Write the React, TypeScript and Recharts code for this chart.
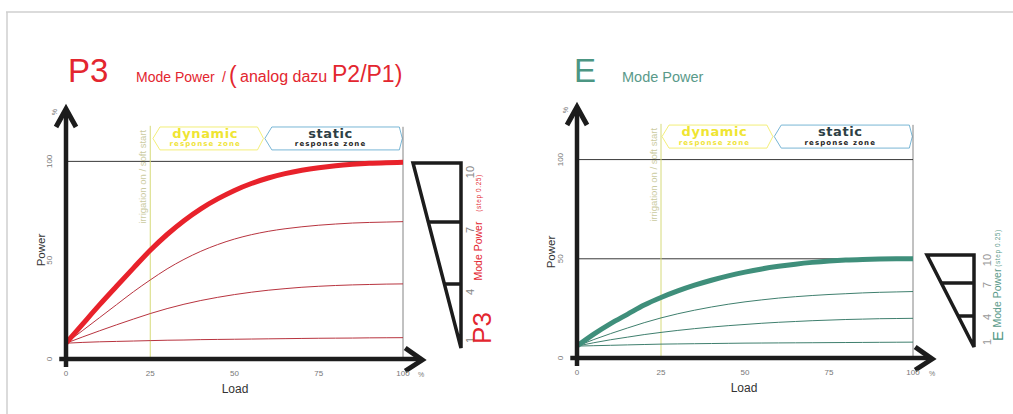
import React from 'react';
import { LineChart, Line, XAxis, YAxis, ReferenceLine, ReferenceArea } from 'recharts';

const loads = [0, 5, 10, 15, 20, 25, 30, 35, 40, 45, 50, 55, 60, 65, 70, 75, 80, 85, 90, 95, 100];

const p3Mode10 = [8, 17.8, 27.5, 36.8, 46, 55, 63, 70, 76, 81, 85.3, 88.8, 91.6, 93.8, 95.5, 96.8, 97.8, 98.5, 99, 99.3, 99.5];
const p3Mode7 = [8, 14.5, 21, 27.5, 34, 40, 45.6, 50.4, 54.5, 57.9, 60.7, 62.9, 64.6, 65.9, 66.9, 67.7, 68.3, 68.8, 69.1, 69.3, 69.5];
const p3Mode4 = [8, 11.2, 14.3, 17.3, 20.2, 23, 25.5, 27.7, 29.6, 31.2, 32.6, 33.8, 34.8, 35.6, 36.3, 36.8, 37.2, 37.5, 37.7, 37.9, 38];
const p3Mode1 = [8, 8.4, 8.7, 8.9, 9.1, 9.3, 9.5, 9.6, 9.8, 9.9, 10, 10.1, 10.2, 10.3, 10.4, 10.5, 10.55, 10.6, 10.7, 10.75, 10.8];

const eMode10 = [6, 12, 17.3, 22, 26.7, 30.5, 33.8, 36.7, 39.2, 41.4, 43.3, 44.9, 46.2, 47.3, 48.2, 48.9, 49.4, 49.7, 49.9, 50, 50];
const eMode7 = [6, 9.3, 12.3, 15.1, 17.8, 20.2, 22.3, 24.1, 25.7, 27.1, 28.3, 29.3, 30.2, 30.9, 31.5, 32, 32.4, 32.8, 33.1, 33.3, 33.5];
const eMode4 = [6, 7.7, 9.2, 10.5, 11.8, 12.9, 13.9, 14.8, 15.6, 16.3, 16.9, 17.5, 18, 18.4, 18.8, 19.1, 19.4, 19.6, 19.8, 19.9, 20];
const eMode1 = [6, 6.2, 6.4, 6.6, 6.8, 7, 7.1, 7.2, 7.3, 7.4, 7.5, 7.55, 7.6, 7.65, 7.7, 7.75, 7.8, 7.85, 7.9, 7.95, 8];

const xTicks = [0, 25, 50, 75, 100];
const modeTicks = ['10', '7', '4', '1'];

const FONT = '"Liberation Sans", Arial, sans-serif';
const WIDE = '"DejaVu Sans", sans-serif';

const buildData = (m10: number[], m7: number[], m4: number[], m1: number[]) =>
  loads.map((x, i) => ({ load: x, m10: m10[i], m7: m7[i], m4: m4[i], m1: m1[i] }));

const p3Data = buildData(p3Mode10, p3Mode7, p3Mode4, p3Mode1);
const eData = buildData(eMode10, eMode7, eMode4, eMode1);

const YTick = (props: any) => {
  const { x, y, payload } = props;
  const tx = x - 6;
  return (
    <text x={tx} y={y} transform={`rotate(-90 ${tx} ${y})`} textAnchor="middle" fontSize={8} fill="#777" fontFamily={FONT}>
      {payload.value}
    </text>
  );
};

const XTick = (props: any) => {
  const { x, y, payload } = props;
  return (
    <text x={x} y={y + 9} textAnchor="middle" fontSize={8} fill="#777" fontFamily={FONT}>
      {payload.value}
    </text>
  );
};

const YArrow = (props: any) => {
  const { x1, y1, x2, y2 } = props;
  const tx = x2;
  const ty = y2 - 2;
  return (
    <g>
      <line x1={x1} y1={y1} x2={tx} y2={ty + 2} stroke="#1c1c1c" strokeWidth={4.5} />
      <polyline points={`${tx - 10},${ty + 19} ${tx},${ty + 1} ${tx + 10},${ty + 19}`} fill="none" stroke="#1c1c1c" strokeWidth={5} />
    </g>
  );
};

const XArrow = (props: any) => {
  const { x1, y1, x2, y2 } = props;
  return (
    <g>
      <line x1={x1} y1={y1} x2={x2 - 2} y2={y2} stroke="#1c1c1c" strokeWidth={4.5} />
      <polyline points={`${x2 - 18},${y2 - 11} ${x2 - 1},${y2 + 1} ${x2 - 18},${y2 + 12}`} fill="none" stroke="#1c1c1c" strokeWidth={5} />
    </g>
  );
};

const IrrigationLine = (props: any) => {
  const { x1, y1, x2, y2 } = props;
  const tx = x1 - 4;
  const ty = y2 + 4;
  return (
    <g>
      <line x1={x1} y1={y1} x2={x2} y2={y2} stroke="#d6da7a" strokeWidth={1} />
      <text x={tx} y={ty} transform={`rotate(-90 ${tx} ${ty})`} textAnchor="end" fontSize={9.5} fill="#cacaa0" fontFamily={FONT}>
        irrigation on / soft start
      </text>
    </g>
  );
};

const makeZone = (kind: 'dynamic' | 'static') => (props: any) => {
  const { x, y, width, height } = props;
  const pl = 7;
  const pr = kind === 'dynamic' ? 6 : 3;
  const pts = [
    [x + pl, y],
    [x + width - pr, y],
    [x + width, y + height / 2],
    [x + width - pr, y + height],
    [x + pl, y + height],
    [x, y + height / 2],
  ]
    .map((p) => p.join(','))
    .join(' ');
  const cx = x + width / 2 - 3;
  const stroke = kind === 'dynamic' ? '#f2ec6a' : '#6aaed0';
  const main = kind === 'dynamic' ? '#efe532' : '#2e3f45';
  const sub = kind === 'dynamic' ? '#f0e43a' : '#1e1e1e';
  return (
    <g>
      <polygon points={pts} fill="#fff" stroke={stroke} strokeWidth={0.9} />
      <text x={cx} y={y + 11} textAnchor="middle" fontSize={13} fontWeight="bold" fill={main} fontFamily={WIDE} letterSpacing={0.6}>
        {kind}
      </text>
      <text x={cx} y={y + 19.5} textAnchor="middle" fontSize={7} fontWeight="bold" fill={sub} fontFamily={WIDE} letterSpacing={1.1}>
        response zone
      </text>
    </g>
  );
};

const DynamicZone = makeZone('dynamic');
const StaticZone = makeZone('static');

type ChartProps = {
  data: any[];
  thick: string;
  thin: string;
  left: number;
  width: number;
  margin: { top: number; right: number; bottom: number; left: number };
  zones: { d1: number; d2: number; s2: number };
  extraLines: number[];
};

const ModeChart = ({ data, thick, thin, left, width, margin, zones, extraLines }: ChartProps) => (
  <div style={{ position: 'absolute', left, top: 0 }}>
    <LineChart width={width} height={414} data={data} margin={margin}>
      <XAxis dataKey="load" type="number" domain={[0, 100]} ticks={xTicks} axisLine={false} tickLine={false} height={20} tick={<XTick />} interval={0} />
      <YAxis type="number" domain={[0, 126]} ticks={[0, 50, 100]} axisLine={false} tickLine={false} width={30} tick={<YTick />} interval={0} />
      <ReferenceLine segment={[{ x: 100, y: 0 }, { x: 100, y: 117.5 }]} stroke="#666" strokeWidth={0.8} ifOverflow="visible" />
      {extraLines.map((v) => (
        <ReferenceLine key={v} segment={[{ x: 0, y: v }, { x: 100, y: v }]} stroke="#222" strokeWidth={0.9} ifOverflow="visible" />
      ))}
      <ReferenceLine segment={[{ x: 25, y: 0 }, { x: 25, y: 118 }]} ifOverflow="visible" shape={IrrigationLine} />
      <ReferenceArea x1={zones.d1} x2={zones.d2} y1={105.8} y2={117.4} ifOverflow="visible" shape={DynamicZone} />
      <ReferenceArea x1={zones.d2 + 0.4} x2={zones.s2} y1={105.8} y2={117.4} ifOverflow="visible" shape={StaticZone} />
      <Line type="monotone" dataKey="m1" stroke={thin} strokeWidth={1} dot={false} isAnimationActive={false} />
      <Line type="monotone" dataKey="m4" stroke={thin} strokeWidth={1} dot={false} isAnimationActive={false} />
      <Line type="monotone" dataKey="m7" stroke={thin} strokeWidth={1} dot={false} isAnimationActive={false} />
      <Line type="monotone" dataKey="m10" stroke={thick} strokeWidth={5} dot={false} isAnimationActive={false} />
      <ReferenceLine segment={[{ x: 0, y: -4 }, { x: 0, y: 126 }]} ifOverflow="visible" shape={YArrow} />
      <ReferenceLine segment={[{ x: -2, y: 0 }, { x: 106, y: 0 }]} ifOverflow="visible" shape={XArrow} />
    </LineChart>
  </div>
);

const Rot = ({ x, y, size, fill, children, family = FONT, spacing = 0 }: any) => (
  <text x={x} y={y} transform={`rotate(-90 ${x} ${y})`} textAnchor="middle" dominantBaseline="central" fontSize={size} fill={fill} fontFamily={family} letterSpacing={spacing}>
    {children}
  </text>
);

const RED = '#e3262f';
const TEAL = '#4c9683';

const Overlay = () => (
  <svg width={1013} height={414} style={{ position: 'absolute', left: 0, top: 0, pointerEvents: 'none' }}>
    <line x1={6} y1={12} x2={1013} y2={12} stroke="#cfcfcf" strokeWidth={1.5} />
    <line x1={7} y1={12} x2={7} y2={414} stroke="#cfcfcf" strokeWidth={1.5} />

    {/* left title */}
    <text x={68} y={82} fontSize={33} fill={RED} fontFamily={FONT}>P3</text>
    <text x={136} y={82} fontSize={14} fill={RED} fontFamily={FONT}>Mode Power</text>
    <text x={222} y={82} fontSize={14} fill={RED} fontFamily={FONT}>/</text>
    <text x={229} y={83} fontSize={23} fill={RED} fontFamily={FONT}>(</text>
    <text x={240} y={82} fontSize={16} fill={RED} fontFamily={FONT}>analog dazu</text>
    <text x={332} y={82} fontSize={23} fill={RED} fontFamily={FONT}>P2/P1)</text>

    {/* right title */}
    <text x={574} y={82} fontSize={33} fill={TEAL} fontFamily={FONT}>E</text>
    <text x={622} y={82} fontSize={14.5} fill="#5a9a8a" fontFamily={FONT}>Mode Power</text>

    {/* axis names */}
    <Rot x={41} y={250} size={11.5} fill="#333">Power</Rot>
    <text x={235} y={393} textAnchor="middle" fontSize={12} fill="#333" fontFamily={FONT}>Load</text>
    <Rot x={551} y={252} size={11.5} fill="#333">Power</Rot>
    <text x={744} y={392} textAnchor="middle" fontSize={12} fill="#333" fontFamily={FONT}>Load</text>

    {/* percent signs */}
    <Rot x={54} y={112} size={7} fill="#777">%</Rot>
    <text x={421} y={377} textAnchor="middle" fontSize={7} fill="#777" fontFamily={FONT}>%</text>
    <Rot x={565} y={110} size={7} fill="#777">%</Rot>
    <text x={932} y={376} textAnchor="middle" fontSize={7} fill="#777" fontFamily={FONT}>%</text>

    {/* left mode triangle */}
    <polygon points="413,163 461,163 461,348" fill="none" stroke="#1c1c1c" strokeWidth={3.5} strokeLinejoin="miter" />
    <line x1={428} y1={222} x2={461} y2={222} stroke="#1c1c1c" strokeWidth={3.5} />
    <line x1={444} y1={284} x2={461} y2={284} stroke="#1c1c1c" strokeWidth={3.5} />
    {modeTicks.map((t, i) => (
      <Rot key={t} x={470} y={[172, 230, 292, 340][i]} size={11} fill="#888">{t}</Rot>
    ))}
    <Rot x={478} y={251} size={10.5} fill={RED}>Mode Power</Rot>
    <Rot x={478} y={193} size={6.5} fill={RED} spacing={0.6}>(step 0.25)</Rot>
    <Rot x={482} y={328} size={26} fill={RED}>P3</Rot>

    {/* right mode triangle */}
    <polygon points="927,255 974,255 974,347" fill="none" stroke="#1c1c1c" strokeWidth={3.5} strokeLinejoin="miter" />
    <line x1={941} y1={283} x2={974} y2={283} stroke="#1c1c1c" strokeWidth={3.5} />
    <line x1={958} y1={316} x2={974} y2={316} stroke="#1c1c1c" strokeWidth={3.5} />
    {modeTicks.map((t, i) => (
      <Rot key={t} x={987} y={[260, 285, 317, 342][i]} size={11} fill="#999">{t}</Rot>
    ))}
    <Rot x={997} y={336} size={15} fill={TEAL}>E</Rot>
    <Rot x={997} y={298} size={10.5} fill="#5a9a8a">Mode Power</Rot>
    <Rot x={997} y={248} size={6.5} fill="#5a9a8a" spacing={0.6}>(step 0.25)</Rot>
  </svg>
);

export default function App() {
  return (
    <div style={{ position: 'absolute', left: 0, top: 0, width: 1013, height: 414, background: '#fff', overflow: 'hidden' }}>
      <ModeChart
        data={p3Data}
        thick="#e8222b"
        thin="#b8343f"
        left={0}
        width={506}
        margin={{ top: 110, right: 103, bottom: 35, left: 36 }}
        zones={{ d1: 25.8, d2: 58.6, s2: 99.8 }}
        extraLines={[100]}
      />
      <ModeChart
        data={eData}
        thick="#3f8f7b"
        thin="#3f7f6e"
        left={511}
        width={502}
        margin={{ top: 108, right: 100, bottom: 36, left: 36 }}
        zones={{ d1: 25.3, d2: 58.3, s2: 99.8 }}
        extraLines={[100, 50]}
      />
      <Overlay />
    </div>
  );
}
